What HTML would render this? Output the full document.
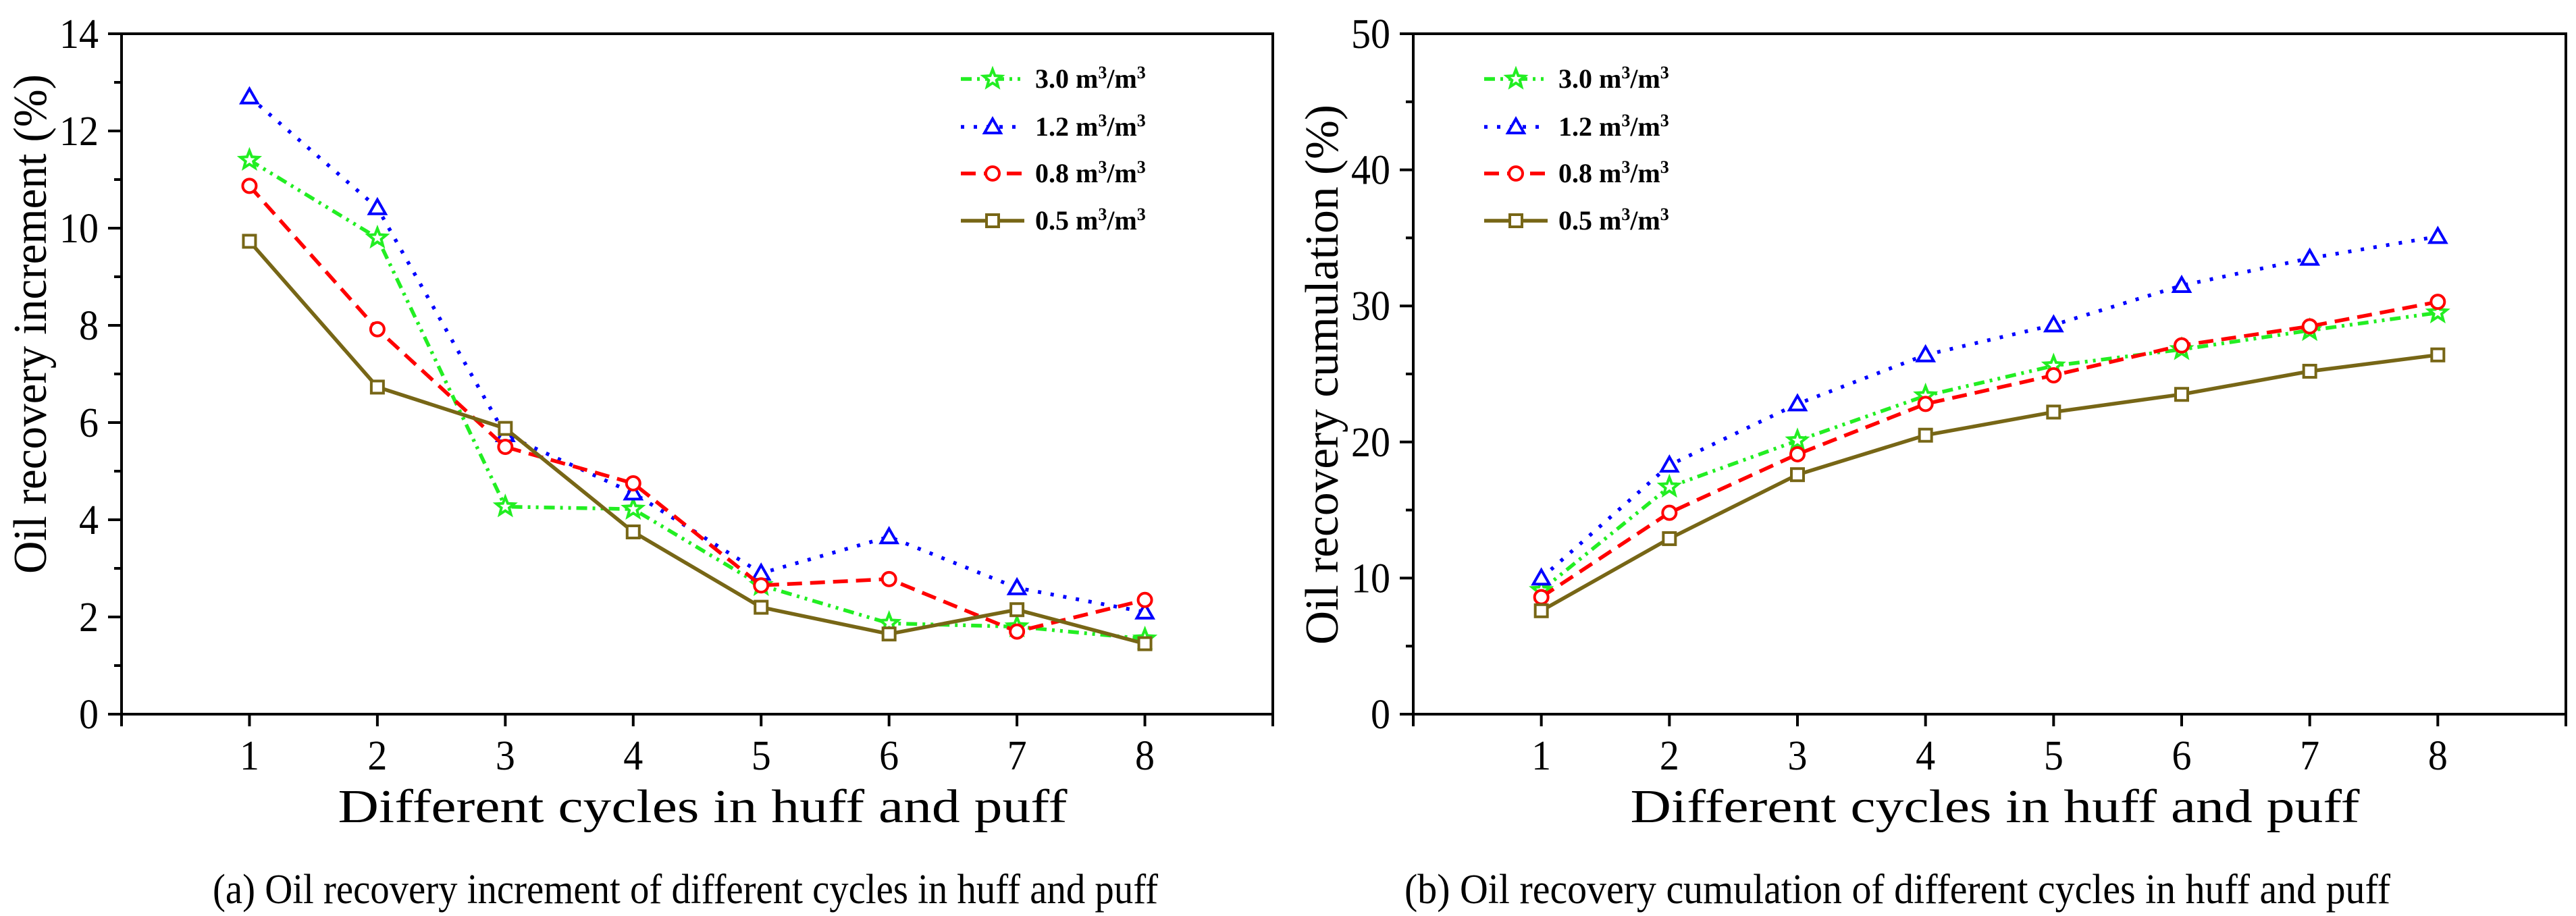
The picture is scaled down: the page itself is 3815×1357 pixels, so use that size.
<!DOCTYPE html>
<html><head><meta charset="utf-8">
<style>
html,body{margin:0;padding:0;background:#fff;}
svg{display:block;font-family:"Liberation Serif",serif;}
</style></head>
<body>
<svg id="fig" width="3815" height="1357" viewBox="0 0 3815 1357" xmlns="http://www.w3.org/2000/svg"></svg>
<script>
const cycles = [1,2,3,4,5,6,7,8];
const seriesNames = ["3.0","1.2","0.8","0.5"];
const incr30 = [11.4, 9.8, 4.27, 4.22, 2.65, 1.87, 1.8, 1.55];
const incr12 = [12.7, 10.42, 5.75, 4.55, 2.9, 3.65, 2.6, 2.1];
const incr08 = [10.87, 7.92, 5.5, 4.75, 2.65, 2.78, 1.7, 2.35];
const incr05 = [9.73, 6.73, 5.88, 3.75, 2.2, 1.65, 2.15, 1.45];
const cum30 = [9.1, 16.7, 20.1, 23.4, 25.6, 26.8, 28.2, 29.5];
const cum12 = [10.0, 18.3, 22.8, 26.4, 28.6, 31.5, 33.5, 35.1];
const cum08 = [8.6, 14.8, 19.1, 22.8, 24.9, 27.1, 28.5, 30.3];
const cum05 = [7.6, 12.9, 17.6, 20.5, 22.2, 23.5, 25.2, 26.4];
const leftTicks = [0,2,4,6,8,10,12,14];
const rightTicks = [0,10,20,30,40,50];

const NS = "http://www.w3.org/2000/svg";
const svg = document.getElementById('fig');
function mk(tag, attrs, parent){
  const e = document.createElementNS(NS, tag);
  for (const k in attrs) e.setAttribute(k, attrs[k]);
  (parent||svg).appendChild(e);
  return e;
}
const styles = [
  {color:"#22ee22", dash:"16 8 4 8 4 8", marker:"star"},
  {color:"#0000ff", dash:"5 14", marker:"tri"},
  {color:"#ff0000", dash:"22 12", marker:"circle"},
  {color:"#776616", dash:"", marker:"square"}
];
function marker(g, type, cx, cy, color){
  const sw = 4;
  let e;
  if (type==="star"){
    let pts=[];
    for(let i=0;i<10;i++){const r=i%2?6:14;const a=-Math.PI/2+i*Math.PI/5;pts.push((cx+r*Math.cos(a)).toFixed(1)+","+(cy+r*Math.sin(a)).toFixed(1));}
    e = mk('polygon',{points:pts.join(' '),fill:'#fff',stroke:color,'stroke-width':sw},g);
  } else if (type==="tri"){
    e = mk('polygon',{points:`${cx},${cy-12} ${cx+12},${cy+9} ${cx-12},${cy+9}`,fill:'#fff',stroke:color,'stroke-width':sw},g);
  } else if (type==="circle"){
    e = mk('circle',{cx:cx,cy:cy,r:10,fill:'#fff',stroke:color,'stroke-width':sw},g);
  } else {
    e = mk('rect',{x:cx-9,y:cy-9,width:18,height:18,fill:'#fff',stroke:color,'stroke-width':sw},g);
  }
  
  
}

function panel(opt){
  const g = mk('g',{});
  
  
  const L=opt.left, R=opt.right, T=50, B=1058;
  const xs = v => L + (R-L)*v/9;
  const ys = v => B - (B-T)*v/opt.ymax;
  const fr = mk('rect',{x:L,y:T,width:R-L,height:B-T,fill:'none',stroke:'#000','stroke-width':4},g);
  
  
  opt.ticks.forEach((t,i)=>{
    const y = ys(t);
    mk('line',{x1:L-20,y1:y,x2:L,y2:y,stroke:'#000','stroke-width':4},g);
    const tx = mk('text',{x:L-34,y:y+21,'font-size':62,'text-anchor':'end',textLength:String(t).length*29,lengthAdjust:'spacingAndGlyphs'},g);
    
    
    tx.textContent = t;
    if (i < opt.ticks.length-1){
      const ym = ys(t + opt.step/2);
      mk('line',{x1:L-11,y1:ym,x2:L,y2:ym,stroke:'#000','stroke-width':4},g);
    }
  });
  mk('line',{x1:L,y1:B,x2:L,y2:B+18,stroke:'#000','stroke-width':4},g);
  mk('line',{x1:R,y1:B,x2:R,y2:B+18,stroke:'#000','stroke-width':4},g);
  cycles.forEach(c=>{
    const x = xs(c);
    mk('line',{x1:x,y1:B,x2:x,y2:B+18,stroke:'#000','stroke-width':4},g);
    const tx = mk('text',{x:x,y:1140,'font-size':62,'text-anchor':'middle',textLength:29,lengthAdjust:'spacingAndGlyphs'},g);
    
    
    tx.textContent = c;
  });
  const xt = mk('text',{x:(L+R)/2+8,y:1218,'font-size':70,'text-anchor':'middle',textLength:1080,lengthAdjust:'spacingAndGlyphs'},g);
  
  
  xt.textContent = "Different cycles in huff and puff";
  const yt = mk('text',{x:0,y:0,'font-size':70,'text-anchor':'middle',transform:`translate(${L-112},${opt.ytitleY}) rotate(-90)`,textLength:opt.ytitleLen,lengthAdjust:'spacingAndGlyphs'},g);
  
  
  yt.textContent = opt.ytitle;
  const cap = mk('text',{x:opt.capX,y:1338,'font-size':62,'text-anchor':'middle',textLength:opt.capLen,lengthAdjust:'spacingAndGlyphs'},g);
  
  
  cap.textContent = opt.caption;
  opt.data.forEach((arr,si)=>{
    const st = styles[si];
    const sg = mk('g',{},g);
    
    
    const pts = arr.map((v,i)=>xs(cycles[i]).toFixed(1)+","+ys(v).toFixed(1)).join(' ');
    const pl = mk('polyline',{points:pts,fill:'none',stroke:st.color,'stroke-width':5.5,'stroke-dasharray':st.dash,'stroke-linejoin':'round'},sg);
    
    
    arr.forEach((v,i)=>marker(sg, st.marker, xs(cycles[i]), ys(v), st.color));
  });
  const lg = mk('g',{},g);
  
  
  const rows=[117,188,257,327];
  styles.forEach((st,si)=>{
    const y = rows[si];
    const eg = mk('g',{},lg);
    
    
    mk('line',{x1:opt.legX,y1:y,x2:opt.legX+94,y2:y,stroke:st.color,'stroke-width':5.5,'stroke-dasharray':st.dash},eg);
    marker(eg, st.marker, opt.legX+47, y, st.color);
    const t = mk('text',{x:opt.legX+110,y:y+13,'font-size':40,'font-weight':'bold'},eg);
    t.innerHTML = seriesNames[si]+' m<tspan dy="-14" font-size="26">3</tspan><tspan dy="14">/m</tspan><tspan dy="-14" font-size="26">3</tspan>';
  });
}

panel({name:'panel-a-increment', left:180, right:1885, ymax:14, step:2, ticks:leftTicks,
  data:[incr30,incr12,incr08,incr05], ytitle:"Oil recovery increment (%)", ytitleY:480, ytitleLen:740,
  caption:"(a) Oil recovery increment of different cycles in huff and puff", capX:1015, capLen:1400, legX:1423});
panel({name:'panel-b-cumulation', left:2093, right:3800, ymax:50, step:10, ticks:rightTicks,
  data:[cum30,cum12,cum08,cum05], ytitle:"Oil recovery cumulation (%)", ytitleY:555, ytitleLen:800,
  caption:"(b) Oil recovery cumulation of different cycles in huff and puff", capX:2810, capLen:1460, legX:2198});
</script>
</body></html>
